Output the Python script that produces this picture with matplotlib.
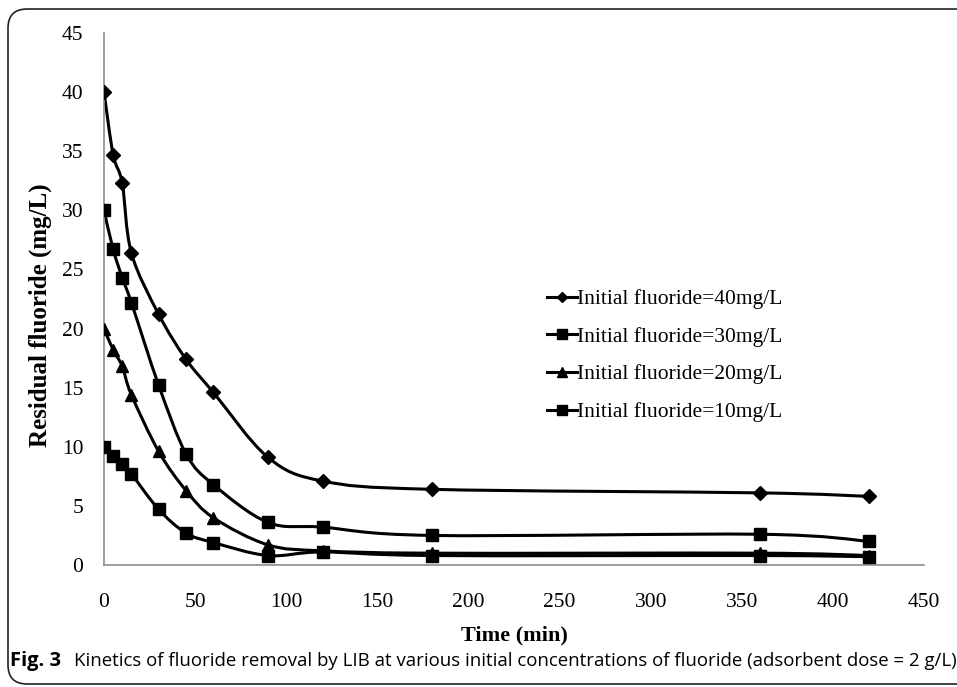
import matplotlib.pyplot as plt
import numpy as np
from matplotlib.path import Path
from matplotlib.patches import PathPatch, FancyBboxPatch
from matplotlib.lines import Line2D

# Data
time_min = [0, 5, 10, 15, 30, 45, 60, 90, 120, 180, 360, 420]
f40 = [40.0, 34.7, 32.3, 26.4, 21.2, 17.4, 14.6, 9.1, 7.1, 6.4, 6.1, 5.8]
f30 = [30.0, 26.7, 24.3, 22.2, 15.2, 9.4, 6.8, 3.6, 3.2, 2.5, 2.6, 2.0]
f20 = [20.0, 18.2, 16.8, 14.4, 9.6, 6.3, 4.0, 1.7, 1.2, 1.0, 1.0, 0.8]
f10 = [10.0, 9.2, 8.5, 7.7, 4.7, 2.7, 1.9, 0.8, 1.1, 0.8, 0.8, 0.7]

labels = ["Initial fluoride=40mg/L", "Initial fluoride=30mg/L",
          "Initial fluoride=20mg/L", "Initial fluoride=10mg/L"]
series = [f40, f30, f20, f10]
markers = ["D", "s", "^", "s"]
msizes = [7, 8.5, 8.5, 8.5]


def smooth_path(x, y):
    # Excel-style smoothed line: Catmull-Rom as cubic Bezier segments
    pts = np.column_stack([np.asarray(x, float), np.asarray(y, float)])
    n = len(pts)
    verts = [pts[0]]
    codes = [Path.MOVETO]
    for i in range(n - 1):
        p0 = pts[i - 1] if i > 0 else pts[i]
        p1 = pts[i]
        p2 = pts[i + 1]
        p3 = pts[i + 2] if i + 2 < n else pts[i + 1]
        verts += [p1 + (p2 - p0) / 6.0, p2 - (p3 - p1) / 6.0, p2]
        codes += [Path.CURVE4] * 3
    return Path(verts, codes)


fig = plt.figure(figsize=(9.57, 6.87), dpi=100)
ax = fig.add_axes([0.1087, 0.1776, 0.8568, 0.7744])

serif = "Liberation Serif"
handles = []
for ys, lab, m, ms in zip(series, labels, markers, msizes):
    ax.add_patch(PathPatch(smooth_path(time_min, ys), fill=False,
                           edgecolor="black", lw=2.2, zorder=2))
    ax.plot(time_min, ys, linestyle="none", marker=m, ms=ms,
            color="black", zorder=3)
    handles.append(Line2D([], [], color="black", lw=2.2, marker=m,
                          ms=ms * 0.8, label=lab))

ax.set_xlim(0, 450)
ax.set_ylim(0, 45)
ax.set_xticks(np.arange(0, 451, 50))
ax.set_yticks(np.arange(0, 46, 5))
ax.tick_params(length=0, labelsize=15.5)
ax.tick_params(axis="x", pad=20)
ax.tick_params(axis="y", pad=15)
for lab in ax.get_xticklabels() + ax.get_yticklabels():
    lab.set_fontfamily(serif)
for side in ["top", "right"]:
    ax.spines[side].set_visible(False)
for side in ["left", "bottom"]:
    ax.spines[side].set_color("#8c8c8c")
    ax.spines[side].set_linewidth(1.2)

ax.set_xlabel("Time (min)", fontfamily=serif, fontweight="bold",
              fontsize=16, labelpad=10)
ax.set_ylabel("Residual fluoride (mg/L)", fontfamily=serif,
              fontweight="bold", fontsize=18)
ax.yaxis.set_label_coords(-0.063, 0.47)

leg = ax.legend(handles=handles, loc="upper left",
                bbox_to_anchor=(0.53, 0.535), frameon=False,
                prop={"family": serif, "size": 15.5}, handlelength=1.4,
                handletextpad=0.0, labelspacing=0.82, borderaxespad=0)

# caption
fig.text(0.010, 0.030, "Fig. 3", fontfamily="Open Sans", fontweight="bold",
         fontsize=14.5, va="baseline")
fig.text(0.077, 0.030,
         "Kinetics of fluoride removal by LIB at various initial concentrations "
         "of fluoride (adsorbent dose = 2 g/L)",
         fontfamily="Open Sans", fontsize=13.4, va="baseline")

# rounded frame around the figure
frame = FancyBboxPatch((8 / 957, 3 / 687), 1.2, 1 - 12 / 687,
                       boxstyle="round,pad=0,rounding_size=0.02",
                       transform=fig.transFigure, fill=False,
                       edgecolor="#222222", lw=1.2, mutation_aspect=957 / 687)
fig.patches.append(frame)

fig.savefig("out.png", dpi=100)
